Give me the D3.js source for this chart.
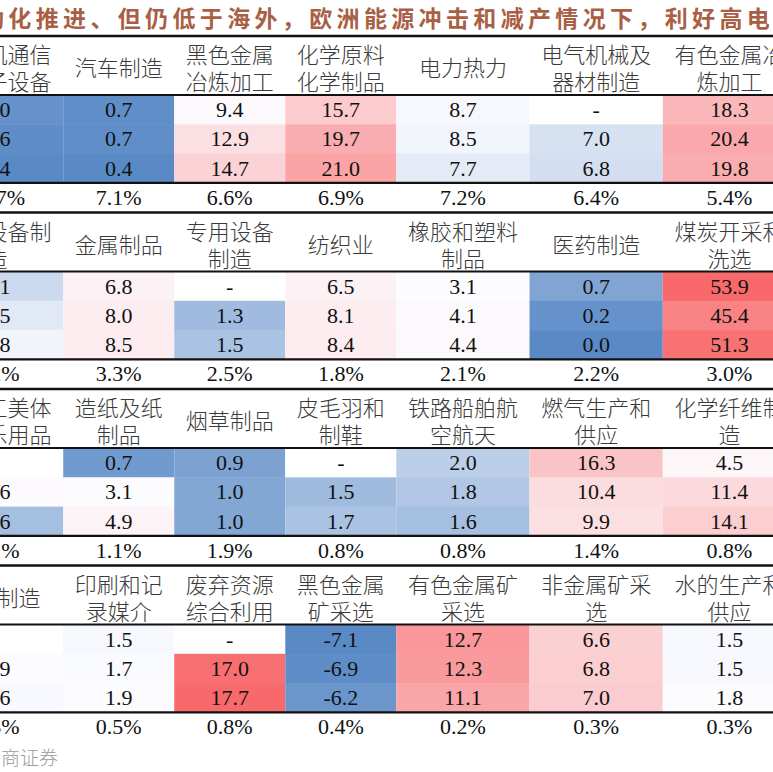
<!DOCTYPE html>
<html>
<head>
<meta charset="utf-8">
<script src="https://cdn.jsdelivr.net/npm/d3@7"></script>
<style>
body { margin: 0; background: #fff; overflow: hidden; }
</style>
</head>
<body>
<svg id="chart" width="773" height="772"></svg>
<script>
// title and source are cut by the picture edges
var title = "动化推进、但仍低于海外，欧洲能源冲击和减产情况下，利好高电价行业";
var source = "资料来源：Wind，浙商证券";

// block 1
var names1 = ["计算机通信和电子设备", "汽车制造", "黑色金属冶炼加工", "化学原料化学制品", "电力热力", "电气机械及器材制造", "有色金属冶炼加工"];
var rows1 = [
	[1.0, 0.7, 9.4, 15.7, 8.7, null, 18.3],
	[0.6, 0.7, 12.9, 19.7, 8.5, 7.0, 20.4],
	[0.4, 0.4, 14.7, 21.0, 7.7, 6.8, 19.8]
];
var share1 = [10.7, 7.1, 6.6, 6.9, 7.2, 6.4, 5.4];
var colorDomain1 = [0.4, 9.0, 29.0];

// block 2
var names2 = ["通用设备制造", "金属制品", "专用设备制造", "纺织业", "橡胶和塑料制品", "医药制造", "煤炭开采和洗选"];
var rows2 = [
	[2.1, 6.8, null, 6.5, 3.1, 0.7, 53.9],
	[2.5, 8.0, 1.3, 8.1, 4.1, 0.2, 45.4],
	[2.8, 8.5, 1.5, 8.4, 4.4, 0.0, 51.3]
];
var share2 = [4.2, 3.3, 2.5, 1.8, 2.1, 2.2, 3.0];
var colorDomain2 = [0.0, 3.0, 53.9];

// block 3
var names3 = ["文教工美体育娱乐用品", "造纸及纸制品", "烟草制品", "皮毛羽和制鞋", "铁路船舶航空航天", "燃气生产和供应", "化学纤维制造"];
var rows3 = [
	[null, 0.7, 0.9, null, 2.0, 16.3, 4.5],
	[3.6, 3.1, 1.0, 1.5, 1.8, 10.4, 11.4],
	[1.6, 4.9, 1.0, 1.7, 1.6, 9.9, 14.1]
];
var share3 = [1.1, 1.1, 1.9, 0.8, 0.8, 1.4, 0.8];
var colorDomain3 = [0.3, 3.1, 38.0];

// block 4
var names4 = ["其他制造", "印刷和记录媒介", "废弃资源综合利用", "黑色金属矿采选", "有色金属矿采选", "非金属矿采选", "水的生产和供应"];
var rows4 = [
	[null, 1.5, null, -7.1, 12.7, 6.6, 1.5],
	[1.9, 1.7, 17.0, -6.9, 12.3, 6.8, 1.5],
	[1.6, 1.9, 17.7, -6.2, 11.1, 7.0, 1.8]
];
var share4 = [0.5, 0.5, 0.8, 0.4, 0.2, 0.3, 0.3];
var colorDomain4 = [-7.1, 1.8, 17.7];

var blocks = [
	{names: names1, rows: rows1, share: share1, domain: colorDomain1},
	{names: names2, rows: rows2, share: share2, domain: colorDomain2},
	{names: names3, rows: rows3, share: share3, domain: colorDomain3},
	{names: names4, rows: rows4, share: share4, domain: colorDomain4}
];

var svg = d3.select("#chart");

// plain hyphen for negatives, like the source table
var fmt = d3.formatLocale({decimal: ".", thousands: ",", grouping: [3], currency: ["", ""], minus: "-"}).format(".1f");

// column widths in units, outer columns are wider
var colUnits = [1.2, 1, 1, 1, 1.2, 1.2, 1.2];
var colStart = [0];
colUnits.forEach(function(u, i){ colStart.push(colStart[i] + u); });
var x = d3.scaleLinear().domain([0, colStart[colStart.length - 1]]).range([-70, 796]);

var blockTop = 36, blockH = 176.5, headH = 59, rowH = 29.3;
var numFont = "'Liberation Serif', 'Times New Roman', serif";
var cjkFont = "'Noto Sans CJK SC', 'Noto Sans', sans-serif";

// title
svg.append("text")
	.attr("x", -19)
	.attr("y", 27)
	.style("font-family", cjkFont)
	.style("font-size", "23px")
	.style("font-weight", "bold")
	.style("letter-spacing", "4.35px")
	.attr("fill", "#a95f45")
	.text(title);

function wrapName(name, w){
	var maxChars = Math.floor((w - 10) / 22.5);
	var lines = [];
	for (var i = 0; i < name.length; i += maxChars) {
		lines.push(name.slice(i, i + maxChars));
	}
	return lines;
}

blocks.forEach(function(b, bi){
	var top = blockTop + bi * blockH;
	var g = svg.append("g");

	var color = d3.scaleLinear()
		.domain(b.domain)
		.range(["#5A8AC6", "#FCFCFF", "#F8696B"])
		.clamp(true);

	var y = d3.scaleLinear().domain([0, 3]).range([top + headH, top + headH + 3 * rowH]);

	// cells
	b.rows.forEach(function(row, ri){
		g.selectAll(null)
			.data(row)
			.enter()
			.append("rect")
			.attr("x", function(d, i){ return x(colStart[i]); })
			.attr("y", y(ri))
			.attr("width", function(d, i){ return x(colStart[i + 1]) - x(colStart[i]); })
			.attr("height", y(ri + 1) - y(ri) + 0.5)
			.attr("fill", function(d){ return d === null ? "#fff" : color(d); });

		g.selectAll(null)
			.data(row)
			.enter()
			.append("text")
			.attr("x", function(d, i){ return (x(colStart[i]) + x(colStart[i + 1])) / 2; })
			.attr("y", (y(ri) + y(ri + 1)) / 2 + 7.5)
			.attr("text-anchor", "middle")
			.style("font-family", numFont)
			.style("font-size", "22px")
			.attr("fill", "#111")
			.text(function(d){ return d === null ? "-" : fmt(d); });
	});

	// headers
	b.names.forEach(function(name, i){
		var x0 = x(colStart[i]), x1 = x(colStart[i + 1]);
		var lines = wrapName(name, x1 - x0);
		var t = g.append("text")
			.attr("text-anchor", "middle")
			.style("font-family", cjkFont)
			.style("font-size", "22px")
			.style("font-weight", "300")
			.attr("fill", "#3a3a3a");
		lines.forEach(function(line, li){
			var cy = lines.length === 1 ? top + 32 : top + 19 + li * 27;
			t.append("tspan")
				.attr("x", (x0 + x1) / 2)
				.attr("y", cy + 8)
				.text(line);
		});
	});

	// share row
	var shareY = top + headH + 3 * rowH;
	g.selectAll(null)
		.data(b.share)
		.enter()
		.append("text")
		.attr("x", function(d, i){ return (x(colStart[i]) + x(colStart[i + 1])) / 2; })
		.attr("y", shareY + 22)
		.attr("text-anchor", "middle")
		.style("font-family", numFont)
		.style("font-size", "22px")
		.attr("fill", "#111")
		.text(function(d){ return fmt(d) + "%"; });

	// rules
	[[top, 2.6], [top + headH, 2], [shareY, 2.2]].forEach(function(l){
		g.append("line")
			.attr("x1", 0).attr("x2", 773)
			.attr("y1", l[0]).attr("y2", l[0])
			.attr("stroke", "#111")
			.attr("stroke-width", l[1]);
	});
});

// source note
svg.append("text")
	.attr("x", 58)
	.attr("y", 765)
	.attr("text-anchor", "end")
	.style("font-family", cjkFont)
	.style("font-size", "19px")
	.style("font-weight", "300")
	.attr("fill", "#9a9a9a")
	.text(source);
</script>
</body>
</html>
